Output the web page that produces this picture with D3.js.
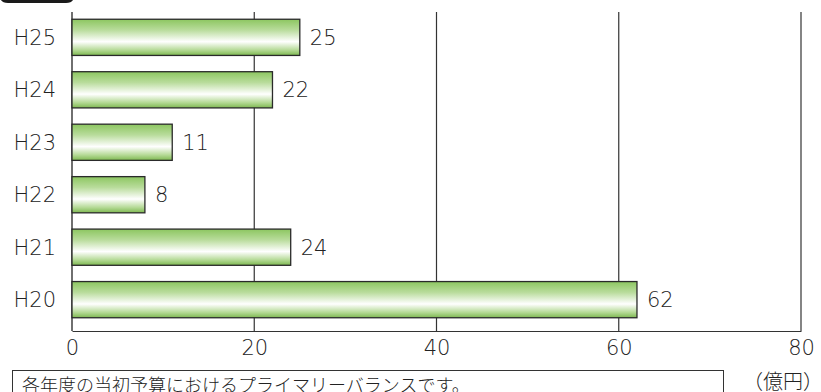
<!DOCTYPE html>
<html>
<head>
<meta charset="utf-8">
<script src="https://cdn.jsdelivr.net/npm/d3@7"></script>
<style>
  body { margin: 0; background: #fff; }
  text { font-family: "DejaVu Sans", sans-serif; font-weight: 200; fill: #222; }
  .jp { font-family: "Noto Sans CJK JP", sans-serif; font-weight: 300; }
</style>
</head>
<body>
<svg id="chart"></svg>
<script>
// chart data
var years = ["H25", "H24", "H23", "H22", "H21", "H20"];
var values = [25, 22, 11, 8, 24, 62];
var xTicks = [0, 20, 40, 60, 80];
var unitLabel = "（億円）";
var caption = "各年度の当初予算におけるプライマリーバランスです。";

var svgWidth = 821, svgHeight = 392;
var plotLeft = 72, plotRight = 801, plotTop = 12, plotBottom = 331;

var svg = d3.select("#chart")
    .attr("width", svgWidth)
    .attr("height", svgHeight);

var defs = svg.append("defs");
var grad = defs.append("linearGradient")
    .attr("id", "barGrad")
    .attr("x1", 0).attr("y1", 0).attr("x2", 0).attr("y2", 1);
grad.append("stop").attr("offset", "0%").attr("stop-color", "#8cc660");
grad.append("stop").attr("offset", "30%").attr("stop-color", "#b9dc9c");
grad.append("stop").attr("offset", "62%").attr("stop-color", "#ffffff");
grad.append("stop").attr("offset", "85%").attr("stop-color", "#b5da96");
grad.append("stop").attr("offset", "100%").attr("stop-color", "#7db850");

var x = d3.scaleLinear().domain([0, 80]).range([plotLeft, plotRight]);
var y = d3.scaleBand().domain(years).range([plotTop + 2, plotBottom - 8]).paddingInner(0.31).paddingOuter(0.1);

// badge cut off at top
svg.append("path")
    .attr("d", "M0,-20 H74 V-4 Q74,3 66,3 H8 Q0,3 0,-4 Z")
    .attr("fill", "#1a1a1a");

// grid lines
svg.append("g")
    .selectAll("line")
    .data(xTicks.slice(1))
    .enter()
    .append("line")
    .attr("x1", function(d) { return x(d); })
    .attr("x2", function(d) { return x(d); })
    .attr("y1", plotTop)
    .attr("y2", plotBottom)
    .attr("stroke", "#333")
    .attr("stroke-width", 1.2);

// bottom axis
var xAxis = d3.axisBottom(x).tickValues(xTicks).tickSize(0).tickPadding(9);
var axisG = svg.append("g")
    .attr("transform", "translate(0," + plotBottom + ")")
    .call(xAxis);
axisG.select(".domain").attr("stroke", "#333").attr("stroke-width", 1.2);
axisG.selectAll("text")
    .attr("font-size", 21)
    .attr("font-family", "DejaVu Sans, sans-serif")
    .attr("font-weight", 200)
    .attr("fill", "#222");

// left axis line
svg.append("line")
    .attr("x1", plotLeft).attr("x2", plotLeft)
    .attr("y1", plotTop).attr("y2", plotBottom)
    .attr("stroke", "#333").attr("stroke-width", 1.4);

// bars
svg.append("g")
    .selectAll("rect")
    .data(values)
    .enter()
    .append("rect")
    .attr("x", x(0))
    .attr("y", function(d, i) { return y(years[i]); })
    .attr("width", function(d) { return x(d) - x(0); })
    .attr("height", y.bandwidth())
    .attr("fill", "url(#barGrad)")
    .attr("stroke", "#2a2a2a")
    .attr("stroke-width", 1.3);

// value labels
svg.append("g")
    .selectAll("text")
    .data(values)
    .enter()
    .append("text")
    .attr("x", function(d) { return x(d) + 10; })
    .attr("y", function(d, i) { return y(years[i]) + y.bandwidth() / 2; })
    .attr("dy", "0.36em")
    .attr("font-size", 21)
    .text(function(d) { return d; });

// year labels
svg.append("g")
    .selectAll("text")
    .data(years)
    .enter()
    .append("text")
    .attr("x", 56)
    .attr("y", function(d) { return y(d) + y.bandwidth() / 2; })
    .attr("dy", "0.36em")
    .attr("text-anchor", "end")
    .attr("font-size", 21)
    .text(function(d) { return d; });

// unit
svg.append("text")
    .attr("class", "jp")
    .attr("x", 823)
    .attr("y", 389)
    .attr("text-anchor", "end")
    .attr("font-size", 20)
    .text(unitLabel);

// caption box
svg.append("rect")
    .attr("x", 12.5).attr("y", 370.5)
    .attr("width", 711).attr("height", 40)
    .attr("fill", "none")
    .attr("stroke", "#333").attr("stroke-width", 1);
svg.append("text")
    .attr("class", "jp")
    .attr("x", 22)
    .attr("y", 392)
    .attr("font-size", 18)
    .text(caption);
</script>
</body>
</html>
